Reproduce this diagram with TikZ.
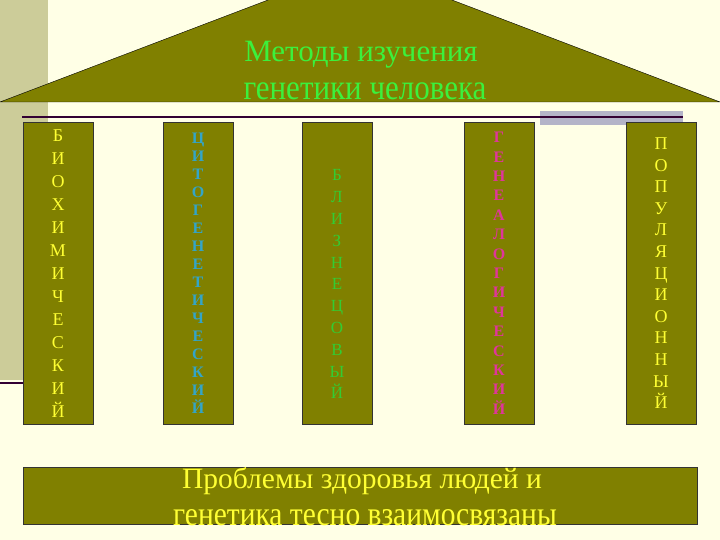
\documentclass[tikz,border=0pt]{standalone}
\usepackage{fontspec}
\setmainfont{Liberation Serif}
\definecolor{paper}{HTML}{FFFFE6}
\definecolor{khaki}{HTML}{CCCC99}
\definecolor{roof}{HTML}{808000}
\definecolor{plum}{HTML}{330033}
\definecolor{slate}{HTML}{B4B4C8}
\definecolor{lightgreen}{HTML}{3CF03C}
\definecolor{lemon}{HTML}{FFFF33}
\definecolor{seablue}{HTML}{33A5C8}
\definecolor{grassgreen}{HTML}{33CC33}
\definecolor{rose}{HTML}{E0359B}
\tikzset{
  column/.style={draw=black!80, fill=roof, minimum width=70pt, minimum height=302pt,
    inner sep=0pt, anchor=north, align=center},
  headline/.style={anchor=base, inner sep=0pt, text=lightgreen, font=\fontsize{31}{36}\selectfont},
  footline/.style={anchor=base, inner sep=0pt, text=lemon, font=\fontsize{29.5}{34}\selectfont},
}
\begin{document}
\begin{tikzpicture}[x=1pt, y=-1pt]
    \useasboundingbox (0, 0) rectangle (720, 540);
    \clip (0, 0) rectangle (720, 540);
    % background
    \fill[paper] (0, 0) rectangle (720, 540);
    \fill[khaki] (0, 0) rectangle (48, 380);
    \draw[plum, line width=2pt] (0, 383) -- (23, 383);
    \fill[slate] (540, 111) rectangle (683, 125);
    \draw[plum, line width=1.5pt] (22, 117) -- (683, 117);
    % roof
    \draw[fill=roof, draw=black] (0, 102) -- (360, -35) -- (720, 102) -- cycle;
    \node[headline] (title1) at (361, 62) {Методы изучения};
    \node[headline] (title2) at (365, 100) {\scalebox{1}[1.15]{генетики человека}};
    % columns
    \node[column, text=lemon, font=\fontsize{18}{23}\selectfont] (bio) at (58, 122)
        {Б\\И\\О\\Х\\И\\М\\И\\Ч\\Е\\С\\К\\И\\Й};
    \node[column, text=seablue, font=\bfseries\fontsize{16}{18}\selectfont] (cyto) at (198, 122)
        {Ц\\И\\Т\\О\\Г\\Е\\Н\\Е\\Т\\И\\Ч\\Е\\С\\К\\И\\Й};
    \node[column, text=grassgreen, font=\fontsize{17}{21.8}\selectfont] (twin) at (337, 122)
        {\rule{0pt}{33.5pt}Б\\Л\\И\\З\\Н\\Е\\Ц\\О\\В\\Ы\\Й};
    \node[column, text=rose, font=\bfseries\fontsize{16}{19.4}\selectfont] (gene) at (499, 122)
        {Г\\Е\\Н\\Е\\А\\Л\\О\\Г\\И\\Ч\\Е\\С\\К\\И\\Й};
    \node[column, text=lemon, font=\fontsize{18}{21.6}\selectfont] (popu) at (661, 122)
        {П\\О\\П\\У\\Л\\Я\\Ц\\И\\О\\Н\\Н\\Ы\\Й};
    % base
    \node[draw=black!80, fill=roof, minimum width=674pt, minimum height=57pt, inner sep=0pt,
        anchor=north west] (base) at (23, 467) {};
    \node[footline] (foot1) at (362, 488) {Проблемы здоровья людей и};
    \node[footline] (foot2) at (365, 525) {\scalebox{1}[1.15]{генетика тесно взаимосвязаны}};
\end{tikzpicture}
\end{document}
